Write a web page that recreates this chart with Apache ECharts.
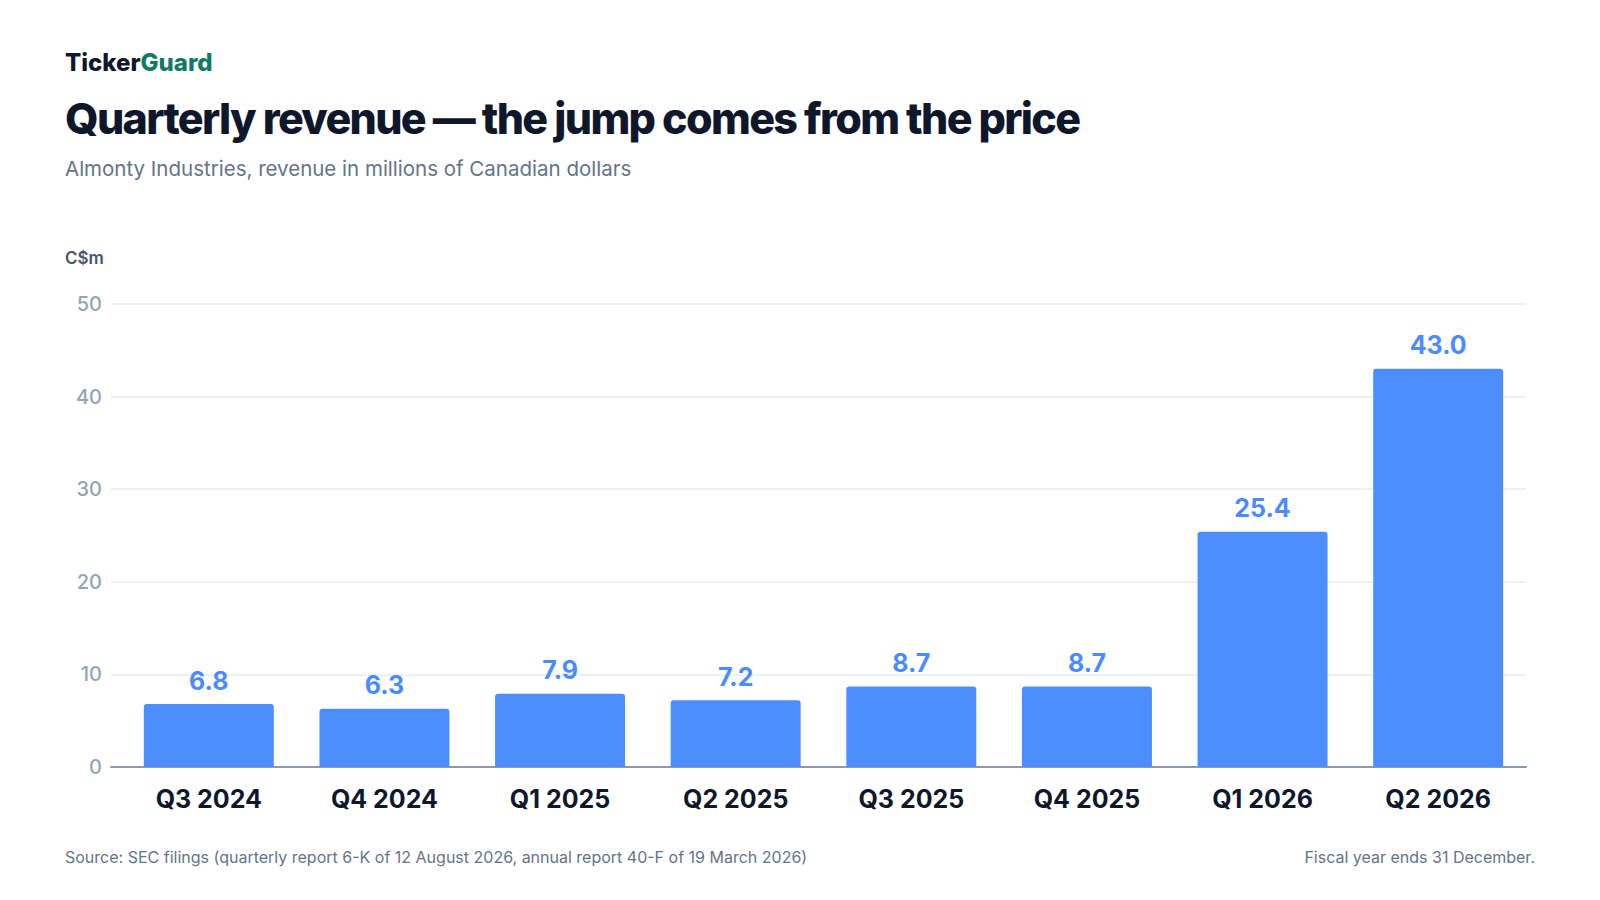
<!DOCTYPE html>
<html><head><meta charset="utf-8">
<script src="https://cdn.jsdelivr.net/npm/echarts@6/dist/echarts.min.js"></script>
<style>html,body{margin:0;padding:0;background:#fff}#c{width:1600px;height:900px}
#c svg text[style*="43px"]{letter-spacing:-1.67px}</style>
</head><body><div id="c"></div>
<script>
const categories = ['Q3 2024','Q4 2024','Q1 2025','Q2 2025','Q3 2025','Q4 2025','Q1 2026','Q2 2026'];
const revenue = [6.8, 6.3, 7.9, 7.2, 8.7, 8.7, 25.4, 43.0];
const yTicks = [0, 10, 20, 30, 40, 50];
const titleText = 'Quarterly revenue — the jump comes from the price';

const F = 'Inter, "Noto Sans", sans-serif';
const yMin = yTicks[0], yMax = yTicks[yTicks.length-1];
const chart = echarts.init(document.getElementById('c'), null, {renderer:'svg'});
chart.setOption({
  backgroundColor:'#ffffff',
  animation:false,
  title:[
    {text:'Ticker{g|Guard}', left:60, top:45, textStyle:{fontFamily:F, fontSize:24, fontWeight:800, color:'#0f172a', rich:{g:{fontFamily:F, fontSize:24, fontWeight:800, color:'#0f7a66'}}}},
    {text:titleText, left:60, top:91, textStyle:{fontFamily:F, fontSize:43, fontWeight:800, color:'#0f172a'}},
    {text:'Almonty Industries, revenue in millions of Canadian dollars', left:60, top:153, textStyle:{fontFamily:F, fontSize:20.5, fontWeight:400, color:'#64748b'}},
    {text:'C$m', left:60, top:244, textStyle:{fontFamily:F, fontSize:17, fontWeight:600, color:'#475569'}},
    {text:'Source: SEC filings (quarterly report 6-K of 12 August 2026, annual report 40-F of 19 March 2026)', left:60, top:844, textStyle:{fontFamily:F, fontSize:16, fontWeight:400, color:'#64748b'}},
    {text:'Fiscal year ends 31 December.', right:60, top:844, textStyle:{fontFamily:F, fontSize:16, fontWeight:400, color:'#64748b'}}
  ],
  grid:[
    {left:111, right:74, top:304, bottom:133},
    {left:121, right:74, top:304, bottom:133}
  ],
  xAxis:[
    {type:'value', gridIndex:0, min:0, max:1, axisLine:{show:true, onZero:false, lineStyle:{color:'#8d99ae', width:2}},
     axisTick:{show:false}, axisLabel:{show:false}, splitLine:{show:false}},
    {type:'category', gridIndex:1, data:categories,
     axisLine:{show:false}, axisTick:{show:false},
     axisLabel:{fontFamily:F, fontSize:25, fontWeight:700, color:'#0f172a', margin:19}}
  ],
  yAxis:[
    {type:'value', gridIndex:0, min:yMin, max:yMax, interval:10,
     axisLine:{show:false}, axisTick:{show:false},
     splitLine:{lineStyle:{color:'#e8ecf1', width:1.5}},
     axisLabel:{fontFamily:F, fontSize:20, fontWeight:500, color:'#94a3b8', margin:9}},
    {type:'value', gridIndex:1, min:yMin, max:yMax, interval:10, show:false, splitLine:{show:false}}
  ],
  series:[{
    type:'bar', xAxisIndex:1, yAxisIndex:1, data:revenue, barWidth:'74%',
    itemStyle:{color:'#4d8eff', borderRadius:[3,3,0,0]},
    label:{show:true, position:'top', distance:11, fontFamily:F, fontSize:25, fontWeight:700, color:'#4a8cff',
      formatter:p=>p.value.toFixed(1)}
  }]
});
function tighten(){
  document.querySelectorAll('#c svg text').forEach(t=>{
    if (t.textContent === titleText) t.style.letterSpacing = '-1.67px';
  });
}
tighten();
chart.on('finished', tighten);
</script></body></html>
